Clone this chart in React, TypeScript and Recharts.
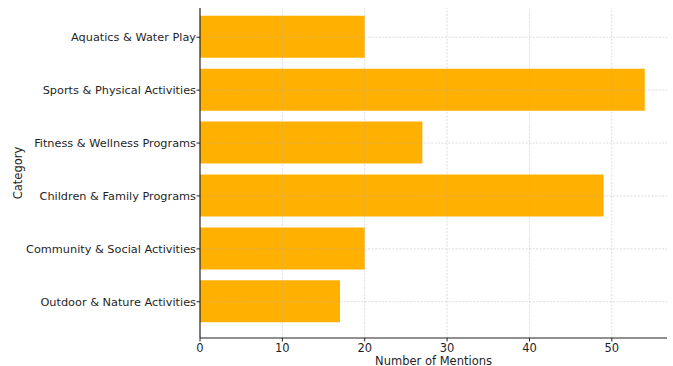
import { BarChart, Bar, XAxis, YAxis, ReferenceLine, Label } from 'recharts';

const categories = [
    'Aquatics & Water Play',
    'Sports & Physical Activities',
    'Fitness & Wellness Programs',
    'Children & Family Programs',
    'Community & Social Activities',
    'Outdoor & Nature Activities',
];

const mentions = [20, 54, 27, 49, 20, 17];

const xTicks = [0, 10, 20, 30, 40, 50];

const data = categories.map((category, i) => ({ category, mentions: mentions[i] }));

const FONT = '"DejaVu Sans", sans-serif';
const TEXT = '#1f1f1f';
const GRID = { stroke: '#b0b0b0', strokeOpacity: 0.45, strokeDasharray: '2.2 1.3', strokeWidth: 0.9 };

export default function App() {
    return (
        <div style={{ position: 'absolute', left: 0, top: 0, width: 673, height: 366, background: '#fff' }}>
            <BarChart
                width={673}
                height={366}
                data={data}
                layout="vertical"
                margin={{ top: 8, right: 6, bottom: 0, left: 0 }}
            >
                <XAxis
                    type="number"
                    domain={[0, 56.7]}
                    ticks={xTicks}
                    height={28}
                    axisLine={{ stroke: '#222', strokeWidth: 1.2 }}
                    tickLine={{ stroke: '#222' }}
                    tickSize={3.5}
                    tick={{ fill: TEXT, fontSize: 11.5, fontFamily: FONT }}
                    allowDataOverflow
                >
                    <Label
                        value="Number of Mentions"
                        position="insideBottom"
                        offset={1}
                        style={{ fill: TEXT, fontSize: 11.5, fontFamily: FONT }}
                    />
                </XAxis>
                <YAxis
                    type="category"
                    dataKey="category"
                    width={200}
                    padding={{ top: 2.8, bottom: 9.8 }}
                    axisLine={{ stroke: '#222', strokeWidth: 1.2 }}
                    tickLine={{ stroke: '#222' }}
                    tickSize={3.5}
                    tickMargin={0.5}
                    tick={{ fill: TEXT, fontSize: 11.3, fontFamily: FONT, width: 300 }}
                >
                    <Label
                        value="Category"
                        angle={-90}
                        position="insideLeft"
                        offset={18}
                        style={{ fill: TEXT, fontSize: 11.5, fontFamily: FONT, textAnchor: 'middle' }}
                    />
                </YAxis>
                <Bar dataKey="mentions" fill="#FFB000" barSize={42} isAnimationActive={false} />
                {xTicks.slice(1).map((t) => (
                    <ReferenceLine key={`x-${t}`} x={t} {...GRID} />
                ))}
                {categories.map((c) => (
                    <ReferenceLine key={`y-${c}`} y={c} {...GRID} />
                ))}
            </BarChart>
        </div>
    );
}
